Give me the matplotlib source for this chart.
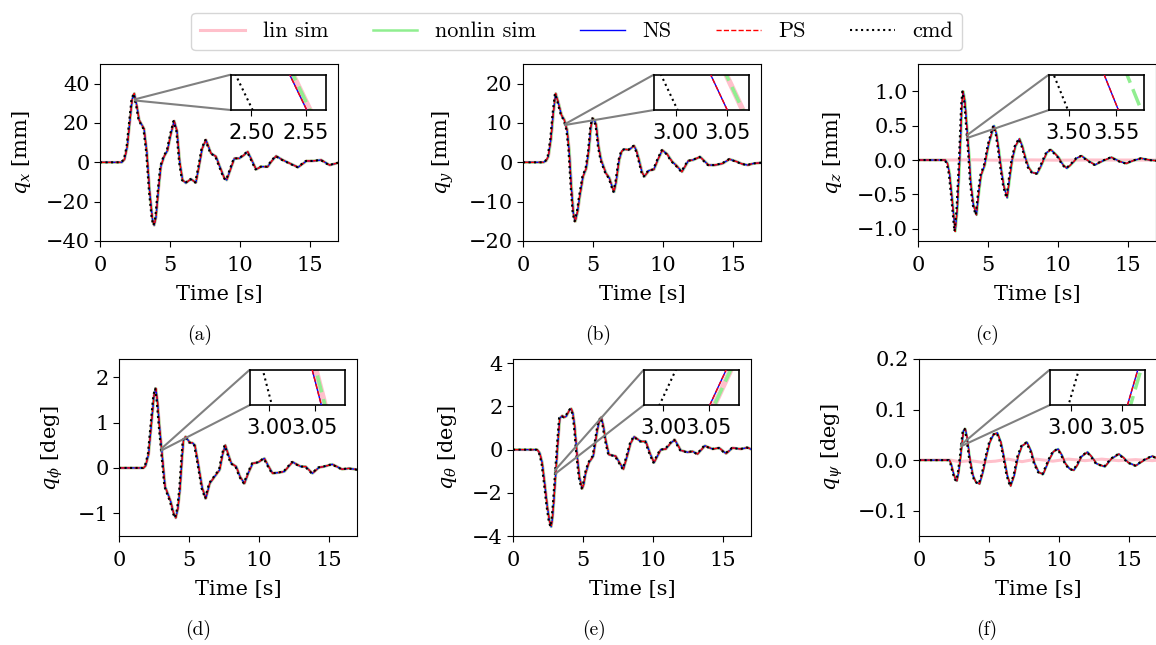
import matplotlib
matplotlib.use('Agg')
import matplotlib.pyplot as plt
import matplotlib.ticker as ticker
import numpy as np
from mpl_toolkits.axes_grid1.inset_locator import mark_inset

# ---- data (cmd signal, knots in seconds) ----
qx_t = [0, 1.5, 1.7, 1.9, 2.1, 2.25, 2.4, 2.6, 2.75, 3.1, 3.3, 3.5, 3.7, 3.82, 3.95, 4.1, 4.3,
        4.53, 4.77, 5.0, 5.25, 5.45, 5.65, 5.85, 6.08, 6.44, 6.8, 7.0, 7.25, 7.52, 7.7, 7.88,
        8.23, 8.5, 8.83, 9.0, 9.2, 9.55, 9.9, 10.2, 10.5, 10.8, 11.1, 11.46, 11.93, 12.2, 12.53,
        13.0, 13.5, 14.1, 14.7, 15.15, 15.75, 16.35, 17.0]
qx_v = [0, 0, 1.5, 8, 22, 32, 35, 28, 21.5, 17, 5, -15, -29, -32, -28, -16, -2,
        3, 6, 14, 21, 16, 0, -9, -10.5, -8.5, -10.3, -3, 7, 11.4, 8, 4.6,
        3, -2, -8, -9, -5, 2, 2, 3.5, 5.4, 1, -3.6, -2.2, -2.2, 0.5, 3.2,
        1.2, -0.5, -2.5, 0.7, 0.7, 1.2, -1.4, -0.2]

qy_t = [0, 1.4, 1.6, 1.76, 1.95, 2.1, 2.28, 2.45, 2.7, 2.9, 3.1, 3.25, 3.4, 3.55, 3.68, 3.85,
        4.0, 4.24, 4.47, 4.65, 4.8, 4.94, 5.08, 5.18, 5.35, 5.53, 5.88, 6.12, 6.3, 6.45, 6.6,
        6.82, 7.0, 7.18, 7.53, 7.88, 8.05, 8.24, 8.45, 8.62, 8.94, 9.3, 9.6, 9.9, 10.24, 10.6,
        10.9, 11.3, 11.76, 12.1, 12.6, 13.2, 13.65, 14.2, 14.7, 15.2, 15.6, 16.0, 16.4, 17.0]
qy_v = [0, 0, 0.4, 1.5, 6, 12, 17.5, 15.5, 12, 10.8, 8.2, 3, -6, -13, -15, -12.5,
        -8.7, -3.6, -1.5, 3, 9, 11.2, 10.5, 9.5, 4, 0.6, -2.8, -4, -6, -7.5, -5,
        0.6, 2.8, 3.3, 3.2, 4.2, 3, 0.6, -2.5, -3.6, -2.1, -1.8, 0.8, 3.1, 2.1, 0.2,
        -0.8, -2.4, 0.4, 0.6, 1.4, -0.7, -0.7, -0.3, 0.8, 0.2, -0.4, -0.7, -0.3, -0.1]

qz_t = [0, 1.9, 2.05, 2.2, 2.4, 2.6, 2.75, 2.9, 3.0, 3.08, 3.17, 3.3, 3.6, 3.71, 3.9, 4.12,
        4.3, 4.45, 4.7, 5.0, 5.37, 5.55, 5.72, 5.9, 6.08, 6.31, 6.5, 6.67, 6.9, 7.19, 7.4,
        7.61, 7.85, 8.1, 8.44, 8.7, 8.91, 9.15, 9.43, 9.7, 9.98, 10.3, 10.57, 10.8, 11.04,
        11.3, 11.63, 12.1, 12.58, 13.17, 13.76, 14.35, 14.82, 15.3, 15.89, 16.5, 17.0]
qz_v = [0, 0, -0.05, -0.2, -0.6, -1.04, -0.72, -0.1, 0.38, 0.8, 1.0, 0.85, 0.05, -0.32, -0.65, -0.8,
        -0.45, -0.22, -0.08, 0.24, 0.5, 0.38, 0.14, -0.15, -0.38, -0.55, -0.25, 0.0, 0.2, 0.31, 0.2,
        0.04, -0.11, -0.18, -0.2, -0.1, 0.0, 0.11, 0.15, 0.1, 0.04, -0.07, -0.12, -0.08, -0.03,
        0.03, 0.06, -0.01, -0.07, -0.01, 0.04, -0.02, -0.05, -0.01, 0.025, 0.0, -0.01]

qphi_t = [0, 1.7, 1.85, 2.06, 2.3, 2.45, 2.58, 2.7, 2.84, 3.24, 3.47, 3.64, 3.85, 4.0, 4.15,
          4.3, 4.45, 4.55, 4.7, 5.0, 5.2, 5.37, 5.6, 5.9, 6.15, 6.43, 6.78, 7.14, 7.35, 7.54,
          7.75, 7.97, 8.32, 8.6, 8.91, 9.2, 9.5, 9.86, 10.33, 10.6, 10.92, 11.4, 11.75, 12.34,
          12.93, 13.28, 13.76, 14.23, 14.59, 15.18, 15.89, 16.36, 17.0]
qphi_v = [0, 0, 0.05, 0.3, 1.1, 1.6, 1.75, 1.45, 0.92, -0.41, -0.6, -0.74, -1.0, -1.1, -0.9,
          -0.48, 0.2, 0.6, 0.69, 0.56, 0.55, 0.5, 0.1, -0.45, -0.67, -0.34, -0.19, -0.04, 0.3, 0.5,
          0.3, 0.1, 0.03, -0.2, -0.34, -0.1, 0.1, 0.12, 0.21, 0.05, -0.12, -0.1, -0.08, 0.13,
          0.03, 0.03, -0.12, 0.01, 0.03, 0.08, -0.03, -0.01, -0.04]

qtheta_t = [0, 1.67, 1.85, 2.03, 2.2, 2.39, 2.55, 2.67, 2.76, 2.85, 3.15, 3.29, 3.46, 3.6, 3.75,
            3.95, 4.1, 4.22, 4.35, 4.53, 4.7, 4.89, 5.0, 5.13, 5.37, 5.68, 5.85, 5.97, 6.1, 6.25,
            6.4, 6.56, 6.8, 7.28, 7.55, 7.83, 8.1, 8.35, 8.6, 9.07, 9.43, 9.75, 10.02, 10.5,
            10.86, 11.2, 11.5, 11.93, 12.41, 12.77, 13.13, 13.65, 14.2, 14.68, 15.16, 15.63,
            16.23, 16.7, 17.0]
qtheta_v = [0, 0, -0.15, -0.6, -1.5, -2.6, -3.3, -3.57, -3.2, -2.5, 0.3, 1.46, 1.57, 1.5, 1.55,
            1.8, 1.9, 1.7, 1.1, -0.3, -1.3, -1.8, -1.6, -1.1, -0.6, -0.3, 0.4, 0.9, 1.3, 1.5,
            1.1, 0.46, -0.23, -0.3, -0.6, -0.9, -0.3, 0.3, 0.6, 0.38, 0.38, -0.2, -0.6, 0.0,
            0.03, 0.3, 0.46, -0.03, -0.12, -0.08, -0.2, 0.18, 0.03, 0.08, -0.18, 0.08,
            0.03, 0.1, 0.0]

qpsi_t = [0, 2.12, 2.25, 2.4, 2.55, 2.65, 2.77, 2.89, 3.12, 3.25, 3.38, 3.56, 3.8, 4.0, 4.27,
          4.5, 4.75, 5.0, 5.25, 5.54, 5.8, 6.01, 6.25, 6.49, 6.75, 7.02, 7.3, 7.66, 7.95, 8.21,
          8.5, 8.81, 9.05, 9.28, 9.55, 9.88, 10.15, 10.41, 10.7, 11.0, 11.25, 11.55, 11.98, 12.3,
          12.63, 13.22, 13.7, 14.22, 14.55, 14.9, 15.42, 15.75, 16.09, 16.61, 17.0]
qpsi_v = [0, 0, -0.008, -0.025, -0.038, -0.041, -0.025, 0.0, 0.058, 0.062, 0.045, 0.007, -0.03,
          -0.043, -0.047, -0.025, 0.007, 0.035, 0.05, 0.054, 0.035, 0.007, -0.03, -0.051, -0.03,
          0.007, 0.028, 0.035, 0.018, -0.007, -0.024, -0.028, -0.012, 0.003, 0.017, 0.022, 0.01,
          -0.007, -0.017, -0.02, -0.01, 0.007, 0.016, 0.006, -0.007, -0.013, 0.003, 0.012, 0.005,
          -0.005, -0.011, -0.005, 0.001, 0.008, 0.003]

# linear sim stays (almost) flat for q_z and q_psi
linz_t = [0, 2, 4, 6, 8, 10, 12, 14, 17]
linz_v = [0, 0, 0.003, -0.003, 0.002, -0.002, 0.001, 0, 0]
linpsi_t = [0, 2.2, 2.8, 3.6, 4.4, 5.4, 6.3, 7.3, 8.3, 9.5, 10.6, 11.8, 13.0, 14.2, 15.4, 16.6, 17]
linpsi_v = [0, 0, -0.003, -0.001, -0.004, -0.002, 0.002, -0.003, 0.002, -0.002, 0.002, -0.001,
            0.002, -0.001, 0.001, -0.001, 0]

# delays of the tracked / simulated signals w.r.t. cmd [s]
lag_ns = [0.05, 0.048, 0.053, 0.054, 0.055, 0.057]
lag_sim = [0.053, 0.063, 0.077, 0.058, 0.06, 0.06]

ylabels = ['$q_x$ [mm]', '$q_y$ [mm]', '$q_z$ [mm]',
           r'$q_\phi$ [deg]', r'$q_\theta$ [deg]', r'$q_\psi$ [deg]']
captions = ['(a)', '(b)', '(c)', '(d)', '(e)', '(f)']
ylims = [(-40, 50), (-20, 25), (-1.18, 1.4), (-1.5, 2.4), (-4, 4.2), (-0.15, 0.2)]
yticks = [[-40, -20, 0, 20, 40], [-20, -10, 0, 10, 20], [-1.0, -0.5, 0.0, 0.5, 1.0],
          [-1, 0, 1, 2], [-4, -2, 0, 2, 4], [-0.1, 0.0, 0.1, 0.2]]
ins_xlim = [(2.481, 2.569), (2.979, 3.071), (3.479, 3.579), (2.979, 3.083), (2.979, 3.083), (2.98, 3.072)]
ins_ticks = [[2.50, 2.55], [3.00, 3.05], [3.50, 3.55], [3.00, 3.05], [3.00, 3.05], [3.00, 3.05]]
ins_cross = [(2.4853, 2.5011), (2.9858, 3.0019), (3.484, 3.499), (2.993, 3.003), (2.996, 3.014), (2.998, 3.008)]

cmd_t = [qx_t, qy_t, qz_t, qphi_t, qtheta_t, qpsi_t]
cmd_v = [qx_v, qy_v, qz_v, qphi_v, qtheta_v, qpsi_v]
lin_t = [qx_t, qy_t, linz_t, qphi_t, qtheta_t, linpsi_t]
lin_v = [qx_v, qy_v, linz_v, qphi_v, qtheta_v, linpsi_v]

plt.rcParams['font.family'] = 'DejaVu Serif'
plt.rcParams['mathtext.fontset'] = 'dejavuserif'
plt.rcParams['font.size'] = 15
plt.rcParams['xtick.major.size'] = 4
plt.rcParams['ytick.major.size'] = 4
plt.rcParams['xtick.major.pad'] = 7

W, H = 1156, 645
fig = plt.figure(figsize=(W / 100, H / 100), dpi=100)

# axes boxes in pixels: left, top, width, height
boxes = [(100, 64, 238, 177), (523, 64, 238, 177), (918, 64, 238, 177),
         (119, 359, 238, 177), (513, 359, 238, 177), (919, 359, 238, 177)]
cap_pos = [(200, 335), (598, 335), (987, 335), (198, 630), (594, 630), (987, 630)]


def draw(a, i, inset=False):
    t = np.array(cmd_t[i])
    v = np.array(cmd_v[i])
    lt = np.array(lin_t[i])
    lv = np.array(lin_v[i])
    sim_ls = (0, (5, 2)) if inset else '-'
    a.plot(lt + lag_sim[i], lv, color='pink', lw=4 if inset else 2.2, zorder=1)
    a.plot(t + lag_sim[i], v, color='lightgreen', lw=2.5 if inset else 1.8, ls=sim_ls, zorder=2)
    a.plot(t + lag_ns[i], v, color='blue', lw=1.0, zorder=3)
    a.plot(t + lag_ns[i], v, color='red', lw=1.0, ls='--', zorder=4)
    a.plot(t, v, color='black', lw=1.5, ls=':', zorder=5)


axes = []
for i in range(6):
    l, tp, w, h = boxes[i]
    ax = fig.add_axes([l / W, 1 - (tp + h) / H, w / W, h / H])
    draw(ax, i)
    ax.set_xlim(0, 17)
    ax.set_ylim(*ylims[i])
    ax.set_xticks([0, 5, 10, 15])
    ax.set_yticks(yticks[i])
    ax.set_xlabel('Time [s]', labelpad=7)
    ax.set_ylabel(ylabels[i], labelpad=9)

    axins = ax.inset_axes([0.55, 0.74, 0.4, 0.2])
    draw(axins, i, inset=True)
    axins.set_xlim(*ins_xlim[i])
    yy = np.interp(ins_cross[i], cmd_t[i], cmd_v[i])
    axins.set_ylim(min(yy), max(yy))
    axins.set_yticks([])
    axins.set_xticks(ins_ticks[i])
    axins.xaxis.set_major_formatter(ticker.FormatStrFormatter('%.2f'))
    axins.tick_params(axis='x', pad=5)
    for lab in axins.get_xticklabels():
        lab.set_fontfamily('DejaVu Sans')
        lab.set_fontsize(15)
    for s in axins.spines.values():
        s.set_linewidth(1.2)
    mark_inset(ax, axins, loc1=2, loc2=3, fc='none', ec='0.5', lw=1.5)

    fig.text(cap_pos[i][0] / W, 1 - cap_pos[i][1] / H, captions[i], family='cmr10',
             fontsize=14, ha='center', va='center')
    axes.append(ax)

handles = axes[0].get_lines()
fig.legend(handles, ['lin sim', 'nonlin sim', 'NS', 'PS', 'cmd'], loc='upper center',
           bbox_to_anchor=(0.499, 0.997), ncol=5, prop={'family': 'cmr10', 'size': 16},
           handlelength=2.0, columnspacing=2.0)

fig.savefig('out.png', dpi=100)
